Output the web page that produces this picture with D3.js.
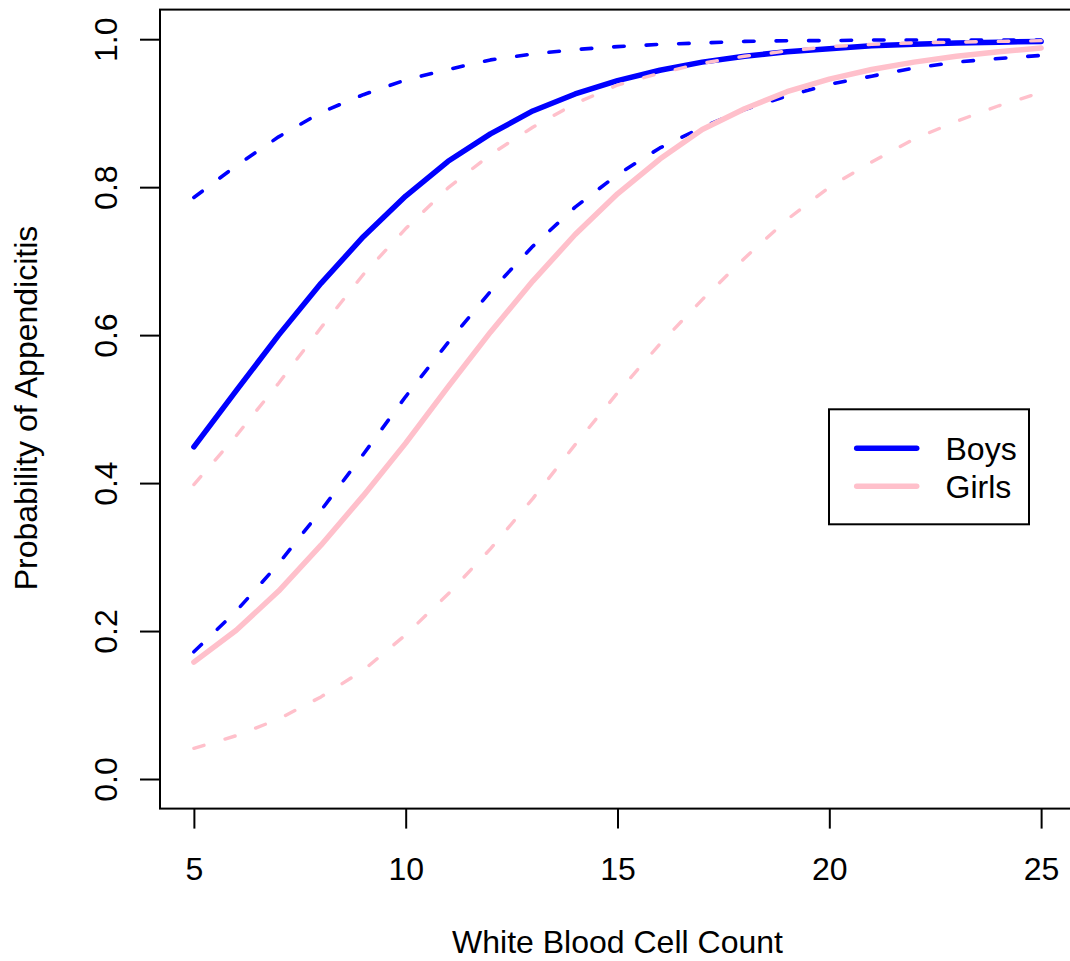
<!DOCTYPE html>
<html>
<head>
<meta charset="utf-8">
<script src="https://cdn.jsdelivr.net/npm/d3@7"></script>
<style>
  html, body { margin: 0; padding: 0; background: #fff; }
  svg { display: block; }
  text { font-family: "Liberation Sans", Arial, Helvetica, sans-serif; fill: #000; }
</style>
</head>
<body>
<svg id="chart" width="1070" height="961"></svg>
<script>
// ---- data ----
const wbc = [5, 6, 7, 8, 9, 10, 11, 12, 13, 14, 15, 16, 17, 18, 19, 20, 21, 22, 23, 24, 25];
const boysFit   = [0.449, 0.525, 0.600, 0.670, 0.733, 0.788, 0.835, 0.872, 0.903, 0.926, 0.944, 0.958, 0.969, 0.977, 0.983, 0.987, 0.991, 0.993, 0.995, 0.996, 0.997];
const boysLower = [0.172, 0.227, 0.291, 0.363, 0.439, 0.517, 0.590, 0.659, 0.720, 0.773, 0.817, 0.853, 0.881, 0.905, 0.923, 0.939, 0.950, 0.961, 0.969, 0.974, 0.978];
const boysUpper = [0.786, 0.829, 0.868, 0.901, 0.925, 0.945, 0.959, 0.972, 0.980, 0.986, 0.990, 0.993, 0.995, 0.997, 0.998, 0.998, 0.999, 0.999, 0.999, 0.999, 0.999];
const girlsFit   = [0.158, 0.201, 0.254, 0.316, 0.383, 0.454, 0.530, 0.604, 0.673, 0.736, 0.791, 0.838, 0.878, 0.906, 0.929, 0.946, 0.959, 0.969, 0.977, 0.983, 0.988];
const girlsLower = [0.0415, 0.0586, 0.081, 0.111, 0.147, 0.195, 0.250, 0.311, 0.379, 0.452, 0.522, 0.588, 0.648, 0.704, 0.756, 0.800, 0.834, 0.865, 0.889, 0.910, 0.928];
const girlsUpper = [0.398, 0.464, 0.535, 0.610, 0.682, 0.744, 0.799, 0.844, 0.881, 0.913, 0.938, 0.954, 0.9675, 0.977, 0.984, 0.990, 0.993, 0.995, 0.996, 0.997, 0.998];
const xTicks = [5, 10, 15, 20, 25];
const yTicks = [0.0, 0.2, 0.4, 0.6, 0.8, 1.0];
const legendLabels = ["Boys", "Girls"];
const legendColors = ["#0000FF", "#FFC0CB"];

// ---- layout ----
const svg = d3.select("#chart");
const FS = 32;
const x = d3.scaleLinear().domain([4.2, 25.8]).range([160, 1075]);
const y = d3.scaleLinear().domain([-0.04, 1.04]).range([808.6, 9.6]);

svg.append("defs").append("clipPath").attr("id", "plotclip")
  .append("rect").attr("x", 160).attr("y", 9.6).attr("width", 915).attr("height", 799);

const plot = svg.append("g").attr("clip-path", "url(#plotclip)");
const line = d3.line().x((d, i) => x(wbc[i])).y(d => y(d));

function drawLine(vals, color, width, dash) {
  plot.append("path")
    .attr("d", line(vals))
    .attr("fill", "none")
    .attr("stroke", color)
    .attr("stroke-width", width)
    .attr("stroke-linecap", "round")
    .attr("stroke-linejoin", "round")
    .attr("stroke-dasharray", dash || null);
}

const DASH = "10.5,22";
drawLine(boysFit, "#0000FF", 5.5);
drawLine(boysLower, "#0000FF", 3.6, DASH);
drawLine(boysUpper, "#0000FF", 3.6, DASH);
drawLine(girlsFit, "#FFC0CB", 5.5);
drawLine(girlsLower, "#FFC0CB", 3.4, DASH);
drawLine(girlsUpper, "#FFC0CB", 3.4, DASH);

// ---- frame (left, top, bottom; right edge is beyond the canvas) ----
svg.append("rect")
  .attr("x", 160).attr("y", 9.6).attr("width", 915).attr("height", 799)
  .attr("fill", "none").attr("stroke", "#000").attr("stroke-width", 2);

// ---- axes ----
const xAxis = d3.axisBottom(x).tickValues(xTicks).tickSize(20).tickPadding(0).tickFormat(d3.format("d"));
const gx = svg.append("g").attr("transform", "translate(0,808.6)").call(xAxis);
gx.select(".domain").remove();
gx.selectAll(".tick line").attr("stroke", "#000").attr("stroke-width", 2);
gx.selectAll(".tick text").remove();
gx.selectAll(".tick").append("text")
  .attr("y", 71).attr("text-anchor", "middle")
  .style("font-size", FS + "px").text(d => d3.format("d")(d));

const yAxis = d3.axisLeft(y).tickValues(yTicks).tickSize(20).tickFormat(d3.format(".1f"));
const gy = svg.append("g").attr("transform", "translate(160,0)").call(yAxis);
gy.select(".domain").remove();
gy.selectAll(".tick line").attr("stroke", "#000").attr("stroke-width", 2);
gy.selectAll(".tick text").remove();
gy.selectAll(".tick").append("text")
  .attr("transform", "translate(-43.5,0) rotate(-90)")
  .attr("text-anchor", "middle")
  .style("font-size", FS + "px").text(d => d3.format(".1f")(d));

// ---- titles ----
svg.append("text").attr("x", 617.5).attr("y", 953).attr("text-anchor", "middle")
  .style("font-size", FS + "px").text("White Blood Cell Count");
svg.append("text").attr("transform", "translate(37,408) rotate(-90)").attr("text-anchor", "middle")
  .style("font-size", FS + "px").text("Probability of Appendicitis");

// ---- legend ----
const lg = svg.append("g");
lg.append("rect").attr("x", 829).attr("y", 409.3).attr("width", 200).attr("height", 115)
  .attr("fill", "#fff").attr("stroke", "#000").attr("stroke-width", 2);
const ly = d3.scalePoint().domain(legendLabels).range([448.3, 486.3]);
legendLabels.forEach((lab, i) => {
  lg.append("line").attr("x1", 856.7).attr("x2", 916.7).attr("y1", ly(lab)).attr("y2", ly(lab))
    .attr("stroke", legendColors[i]).attr("stroke-width", 5.5).attr("stroke-linecap", "round");
  lg.append("text").attr("x", 945.5).attr("y", ly(lab) + 11.5).style("font-size", FS + "px").text(lab);
});
</script>
</body>
</html>
